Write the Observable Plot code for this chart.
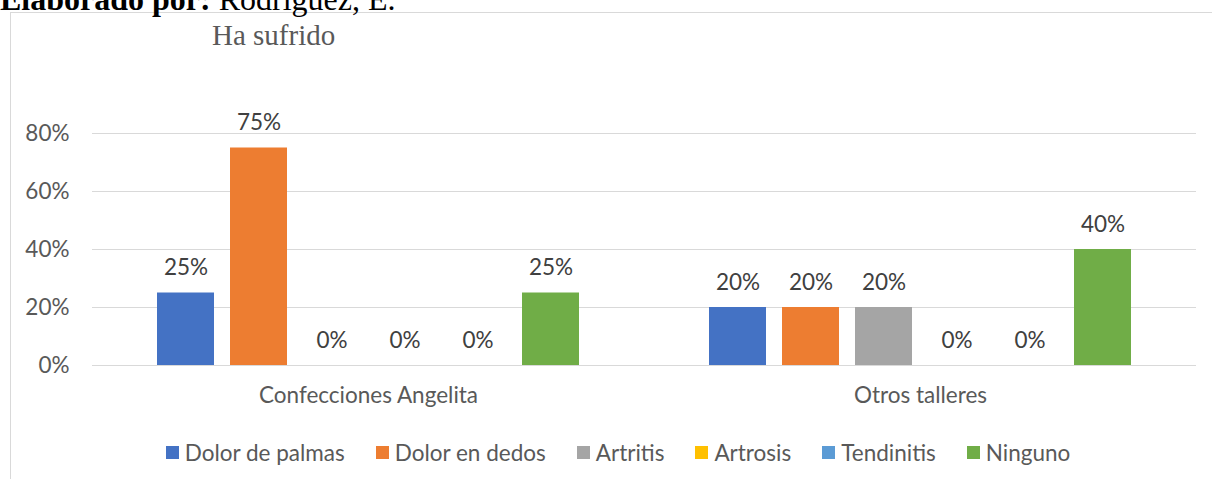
<!DOCTYPE html>
<html>
<head>
<meta charset="utf-8">
<script src="https://cdn.jsdelivr.net/npm/d3@7"></script>
<script src="https://cdn.jsdelivr.net/npm/@observablehq/plot@0.6"></script>
<style>
  html, body { margin: 0; padding: 0; background: #fff; }
  #page { position: relative; width: 1212px; height: 479px; overflow: hidden; background: #fff; }
  #frame { position: absolute; left: 10px; top: 12px; width: 1230px; height: 500px; border: 1px solid #d9d9d9; box-sizing: border-box; }
  #source { position: absolute; left: 0px; top: -17px; font-family: "Liberation Serif", "Times New Roman", serif; font-size: 32px; line-height: 32px; color: #000; white-space: nowrap; }
  #title { position: absolute; left: 212px; top: 21px; font-family: "Liberation Serif", "Times New Roman", serif; font-size: 29px; line-height: 29px; color: #595959; white-space: nowrap; }
  #chart { position: absolute; left: 0; top: 100px; }
  #legend { position: absolute; left: 0; width: 1236px; top: 439px; height: 26px; display: flex; justify-content: center; align-items: center; gap: 31px; font-family: Lato, sans-serif; font-size: 22.5px; color: #595959; white-space: nowrap; }
  .item { display: flex; align-items: center; gap: 6px; }
  .sw { width: 13px; height: 13px; display: inline-block; }
</style>
</head>
<body>
<div id="page">
  <div id="frame"></div>
  <div id="source"><b>Elaborado por:</b> Rodríguez, E.</div>
  <div id="title">Ha sufrido</div>
  <div id="chart"></div>
  <div id="legend"></div>
</div>
<script>
// ---- data ----
const categories = ["Confecciones Angelita", "Otros talleres"];
const series = ["Dolor de palmas", "Dolor en dedos", "Artritis", "Artrosis", "Tendinitis", "Ninguno"];
const angelitaValues = [0.25, 0.75, 0, 0, 0, 0.25];
const otrosValues = [0.20, 0.20, 0.20, 0, 0, 0.40];
const seriesColors = ["#4472C4", "#ED7D31", "#A5A5A5", "#FFC000", "#5B9BD5", "#70AD47"];
const yTicks = [0, 0.2, 0.4, 0.6, 0.8];

const valuesByCategory = [angelitaValues, otrosValues];
const rows = [];
categories.forEach((c, i) => {
  series.forEach((s, j) => rows.push({category: c, series: s, value: valuesByCategory[i][j]}));
});

const pct = d3.format(".0%");

const chart = Plot.plot({
  width: 1212,
  height: 320,
  marginTop: 33,
  marginBottom: 55,
  marginLeft: 91,
  marginRight: 16,
  style: {fontFamily: "Lato, sans-serif", fontSize: "22.5px", color: "#595959", background: "transparent", overflow: "visible"},
  fx: {domain: categories, padding: 0, axis: "bottom", tickSize: 0, tickPadding: 22, label: null},
  x: {domain: series, paddingInner: 0.225, paddingOuter: 0.8625, axis: null},
  y: {domain: [0, 0.8], ticks: yTicks, tickFormat: pct, tickSize: 0, tickPadding: 23, label: null},
  color: {domain: series, range: seriesColors},
  marks: [
    Plot.ruleY(yTicks, {stroke: "#d9d9d9", strokeWidth: 1}),
    Plot.barY(rows, {fx: "category", x: "series", y: "value", fill: "series"}),
    Plot.text(rows, {fx: "category", x: "series", y: "value", text: d => pct(d.value), dy: -25, fill: "#404040", fontSize: 22.5})
  ]
});
document.getElementById("chart").appendChild(chart);

// ---- legend ----
const legend = document.getElementById("legend");
series.forEach((s, i) => {
  const item = document.createElement("div");
  item.className = "item";
  const sw = document.createElement("span");
  sw.className = "sw";
  sw.style.background = seriesColors[i];
  const label = document.createElement("span");
  label.textContent = s;
  item.appendChild(sw);
  item.appendChild(label);
  legend.appendChild(item);
});
</script>
</body>
</html>
